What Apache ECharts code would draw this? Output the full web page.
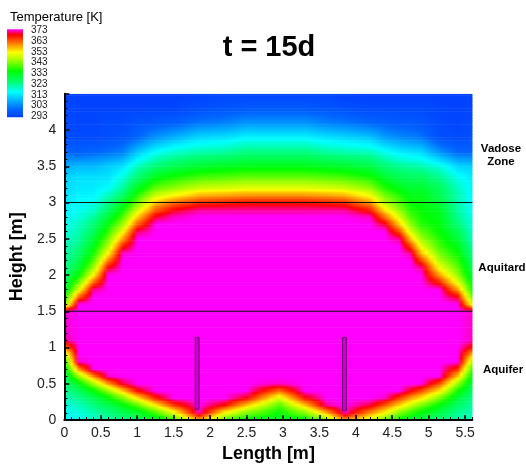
<!DOCTYPE html>
<html>
<head>
<meta charset="utf-8">
<title>t = 15d</title>
<script src="https://cdn.jsdelivr.net/npm/echarts/dist/echarts.min.js"></script>
<style>
  html, body { margin: 0; padding: 0; background: #fff; }
  #chart { width: 526px; height: 469px; }
</style>
</head>
<body>
<div id="chart"></div>
<script>
// Section geometry: mesh stations along the length (m) and height levels (m)
const lengthStations = [0, 0.2, 0.4, 0.6, 0.8, 1.0, 1.25, 1.5, 1.85, 2.2, 2.5, 2.95, 3.3, 3.6, 3.85, 4.2, 4.4, 4.6, 4.75, 4.9, 5.15, 5.4, 5.6];
const heightLevels = [0, 0.1, 0.2, 0.3, 0.4, 0.5, 0.6, 0.7, 0.8, 0.9, 1.0, 1.1, 1.2, 1.3, 1.4, 1.5,
  1.6, 1.7, 1.8, 1.9, 2.0, 2.1, 2.2, 2.3, 2.4, 2.5, 2.6, 2.7, 2.8, 2.9, 3.0, 3.1,
  3.2, 3.35, 3.5, 3.7, 3.9, 4.1, 4.3, 4.5];

// Temperature (K) at each length station, one row per height level (bottom to top)
const temperatureRows = [
  [316,317,319,321,324,327,331,338,358,340,334,332,334,343,359,349,341,335,332,329,325,321,320], // 0
  [317,318,321,324,328,331,339,350,372,352,343,335,343,357,372,359,352,343,338,334,329,323,321], // 0.1
  [318,320,324,328,333,340,352,364,373,367,355,340,355,371,373,369,362,354,348,342,334,326,322], // 0.2
  [320,323,328,334,342,353,366,373,373,373,368,349,367,373,373,373,372,364,358,353,342,330,324], // 0.3
  [322,327,334,344,355,367,373,373,373,373,373,361,373,373,373,373,373,373,368,363,353,336,326], // 0.4
  [324,333,345,358,369,373,373,373,373,373,373,372,373,373,373,373,373,373,373,373,363,344,329], // 0.5
  [327,344,359,372,373,373,373,373,373,373,373,373,373,373,373,373,373,373,373,373,373,355,333], // 0.6
  [331,359,373,373,373,373,373,373,373,373,373,373,373,373,373,373,373,373,373,373,373,365,338], // 0.7
  [336,372,373,373,373,373,373,373,373,373,373,373,373,373,373,373,373,373,373,373,373,373,346], // 0.8
  [345,373,373,373,373,373,373,373,373,373,373,373,373,373,373,373,373,373,373,373,373,373,356], // 0.9
  [360,373,373,373,373,373,373,373,373,373,373,373,373,373,373,373,373,373,373,373,373,373,367], // 1.0
  [371,373,373,373,373,373,373,373,373,373,373,373,373,373,373,373,373,373,373,373,373,373,372], // 1.1
  [372,373,373,373,373,373,373,373,373,373,373,373,373,373,373,373,373,373,373,373,373,373,372], // 1.2
  [372,373,373,373,373,373,373,373,373,373,373,373,373,373,373,373,373,373,373,373,373,373,372], // 1.3
  [372,373,373,373,373,373,373,373,373,373,373,373,373,373,373,373,373,373,373,373,373,373,372], // 1.4
  [372,373,373,373,373,373,373,373,373,373,373,373,373,373,373,373,373,373,373,373,373,373,372], // 1.5
  [342,373,373,373,373,373,373,373,373,373,373,373,373,373,373,373,373,373,373,373,373,373,350], // 1.6
  [335,362,373,373,373,373,373,373,373,373,373,373,373,373,373,373,373,373,373,373,373,368,341], // 1.7
  [330,350,371,373,373,373,373,373,373,373,373,373,373,373,373,373,373,373,373,373,373,358,336], // 1.8
  [327,342,362,373,373,373,373,373,373,373,373,373,373,373,373,373,373,373,373,373,366,350,333], // 1.9
  [325,335,352,373,373,373,373,373,373,373,373,373,373,373,373,373,373,373,373,373,358,344,330], // 2.0
  [323,331,345,368,373,373,373,373,373,373,373,373,373,373,373,373,373,373,373,371,351,341,328], // 2.1
  [322,328,340,360,373,373,373,373,373,373,373,373,373,373,373,373,373,373,373,364,346,338,326], // 2.2
  [321,326,336,352,372,373,373,373,373,373,373,373,373,373,373,373,373,373,371,356,342,335,324], // 2.3
  [320,324,333,346,366,373,373,373,373,373,373,373,373,373,373,373,373,373,364,350,339,333,322], // 2.4
  [319,322,330,342,358,373,373,373,373,373,373,373,373,373,373,373,373,371,356,345,337,330,320], // 2.5
  [318,321,327,338,351,370,373,373,373,373,373,373,373,373,373,373,373,363,349,341,335,328,319], // 2.6
  [317,320,325,334,345,362,373,373,373,373,373,373,373,373,373,373,369,355,344,337,334,325,318], // 2.7
  [316,318,322,330,340,355,369,372,373,373,373,373,373,373,373,372,361,349,340,336,333,323,317], // 2.8
  [315,317,319,326,335,348,362,368,371,371,371,371,371,371,371,366,353,344,337,335,332,322,316], // 2.9
  [314,316,317,323,331,342,355,361,365,366,367,367,367,366,365,358,346,340,335,334,330,321,316], // 3.0
  [313,315,315,320,326,337,348,352,357,358,359,359,359,358,357,351,342,337,333,333,328,321,315], // 3.1
  [312,314,314,316,322,332,341,344,348,349,350,350,350,349,348,344,337,333,331,331,327,320,315], // 3.2
  [311,313,313,313,318,325,333,336,339,340,341,341,341,340,339,336,331,328,327,327,323,317,314], // 3.35
  [308,309,309,311,313,320,325,328,331,332,333,333,333,332,331,329,325,323,322,321,318,312,311], // 3.5
  [300,299,300,301,303,310,316,319,321,322,324,324,324,322,321,320,317,314,313,312,305,300,300], // 3.7
  [296,295,295,296,297,300,305,308,312,313,315,315,315,313,312,310,306,304,303,302,296,295,296], // 3.9
  [295,294,294,295,295,297,298,299,302,303,305,305,305,303,302,300,299,298,298,297,295,294,295], // 4.1
  [294,294,294,294,294,294,294,294,296,297,298,298,298,297,296,295,295,295,295,295,294,294,294], // 4.3
  [294,293,293,293,293,293,293,293,293,294,294,294,294,294,293,293,293,293,293,293,293,293,293]  // 4.5
];

// Layer interfaces (m) and zone names, top to bottom
const layerBoundaries = [3.0, 1.5];
const zoneNames = ['Vadose\nZone', 'Aquitard', 'Aquifer'];

// Well screens: centre position, bottom and top heights (m)
const wellCenters = [1.822, 3.844];
const wellBottoms = [0.148, 0.128];
const wellTops = [1.14, 1.14];
const wellWidth = 0.052;

// Temperature scale (K)
const tempScaleMin = 293;
const tempScaleMax = 373;
const tempScaleStep = 10;

// Rainbow palette nodes
const paletteTemps = [293, 300, 308, 316, 324, 335, 345, 352, 360, 368, 373];
const paletteRGB = [
  [0, 64, 255], [0, 100, 255], [0, 176, 255], [0, 255, 255], [0, 255, 128],
  [0, 255, 0], [160, 255, 0], [255, 255, 0], [255, 128, 0], [255, 0, 0], [255, 0, 255]
];

const FONT = '"Liberation Sans", Arial, Helvetica, sans-serif';

function tempColor(t) {
  const n = paletteTemps.length;
  let c;
  if (t <= paletteTemps[0]) c = paletteRGB[0];
  else if (t >= paletteTemps[n - 1]) c = paletteRGB[n - 1];
  else {
    for (let i = 0; i < n - 1; i++) {
      if (t <= paletteTemps[i + 1]) {
        const f = (t - paletteTemps[i]) / (paletteTemps[i + 1] - paletteTemps[i]);
        const a = paletteRGB[i], b = paletteRGB[i + 1];
        c = [a[0] + (b[0] - a[0]) * f, a[1] + (b[1] - a[1]) * f, a[2] + (b[2] - a[2]) * f];
        break;
      }
    }
  }
  return 'rgb(' + Math.round(c[0]) + ',' + Math.round(c[1]) + ',' + Math.round(c[2]) + ')';
}

// Shaded flood of one band of mesh cells between two height levels
function renderField(params, api) {
  const j = api.value(2);
  const last = lengthStations.length - 1;
  const x0 = lengthStations[0], xN = lengthStations[last];
  const tl = api.coord([x0, heightLevels[j + 1]]);
  const br = api.coord([xN, heightLevels[j]]);
  const h = br[1] - tl[1];
  const w = br[0] - tl[0];
  const n = Math.max(1, Math.ceil(h / 1.5));
  const lower = temperatureRows[j], upper = temperatureRows[j + 1];
  const children = [];
  for (let k = 0; k < n; k++) {
    const f = 1 - (k + 0.5) / n;
    const stops = [];
    for (let i = 0; i < last; i++) {
      const a = lower[i] + (upper[i] - lower[i]) * f;
      const b = lower[i + 1] + (upper[i + 1] - lower[i + 1]) * f;
      for (let s = 0; s < 4; s++) {
        const u = s / 4;
        const xm = lengthStations[i] + (lengthStations[i + 1] - lengthStations[i]) * u;
        stops.push({ offset: (xm - x0) / (xN - x0), color: tempColor(a + (b - a) * u) });
      }
    }
    stops.push({ offset: 1, color: tempColor(lower[last] + (upper[last] - lower[last]) * f) });
    children.push({
      type: 'rect',
      shape: { x: tl[0], y: tl[1] + k * h / n, width: w, height: h / n + 0.6 },
      style: { fill: new echarts.graphic.LinearGradient(0, 0, 1, 0, stops) }
    });
  }
  return { type: 'group', children: children };
}

function renderWell(params, api) {
  const c = api.value(0), bot = api.value(1), top = api.value(2);
  const p0 = api.coord([c - wellWidth / 2, top]);
  const p1 = api.coord([c + wellWidth / 2, bot]);
  return {
    type: 'rect',
    shape: { x: p0[0], y: p0[1], width: p1[0] - p0[0], height: p1[1] - p0[1] },
    style: { fill: '#d000d0', stroke: '#6a006a', lineWidth: 1 }
  };
}

function renderScaleBar(params, api) {
  const top = api.coord([0, tempScaleMax]);
  const bottom = api.coord([1, tempScaleMin]);
  const stops = paletteTemps.map(function (t) {
    return { offset: (tempScaleMax - t) / (tempScaleMax - tempScaleMin), color: tempColor(t) };
  }).reverse();
  return {
    type: 'rect',
    shape: { x: top[0], y: top[1] - 1, width: bottom[0] - top[0], height: bottom[1] - top[1] + 2 },
    style: { fill: new echarts.graphic.LinearGradient(0, 0, 0, 1, stops) }
  };
}

const xStart = lengthStations[0];
const xEnd = lengthStations[lengthStations.length - 1];
const yEnd = heightLevels[heightLevels.length - 1];

const chart = echarts.init(document.getElementById('chart'), null, { renderer: 'canvas' });

const axisCommon = {
  axisLine: { show: true, onZero: false, lineStyle: { color: '#000', width: 2 } },
  splitLine: { show: false }
};

const option = {
  animation: false,
  backgroundColor: '#ffffff',
  textStyle: { fontFamily: FONT },
  grid: [
    { left: 63, top: 93.75, width: 409.4, height: 326.25 },
    { left: 7, top: 30.3, width: 16, height: 86 }
  ],
  xAxis: [
    Object.assign({}, axisCommon, {
      gridIndex: 0, type: 'value', min: xStart, max: xEnd, interval: 0.5, position: 'bottom', z: 10,
      name: 'Length [m]', nameLocation: 'middle', nameGap: 22,
      nameTextStyle: { fontSize: 18, fontWeight: 'bold', color: '#000', fontFamily: FONT },
      axisTick: { show: true, inside: true, length: 5, lineStyle: { color: '#000', width: 1.5 } },
      axisLabel: { fontSize: 14, color: '#222', margin: 6, showMaxLabel: false, fontFamily: FONT }
    }),
    {
      gridIndex: 0, type: 'value', min: xStart, max: xEnd, interval: 0.1, position: 'bottom', z: 10,
      axisLine: { show: false },
      axisTick: { show: true, inside: true, length: 3, lineStyle: { color: '#000', width: 1 } },
      axisLabel: { show: false }, splitLine: { show: false }
    },
    { gridIndex: 1, type: 'value', min: 0, max: 1, show: false }
  ],
  yAxis: [
    Object.assign({}, axisCommon, {
      gridIndex: 0, type: 'value', min: 0, max: yEnd, interval: 0.5, position: 'left', z: 10,
      name: 'Height [m]', nameLocation: 'middle', nameGap: 32, nameRotate: 90,
      nameTextStyle: { fontSize: 18, fontWeight: 'bold', color: '#000', fontFamily: FONT },
      axisTick: { show: true, inside: true, length: 5, lineStyle: { color: '#000', width: 1.5 } },
      minorTick: { show: true, splitNumber: 5, length: 3, lineStyle: { color: '#000', width: 1 } },
      axisLabel: { fontSize: 14, color: '#222', margin: 8, showMaxLabel: false, fontFamily: FONT }
    }),
    {
      gridIndex: 1, type: 'value', min: tempScaleMin, max: tempScaleMax, interval: tempScaleStep,
      position: 'right',
      axisLine: { show: false }, axisTick: { show: false }, splitLine: { show: false },
      axisLabel: { fontSize: 10, color: '#222', margin: 8, fontFamily: FONT }
    }
  ],
  series: [
    {
      type: 'custom', name: 'Temperature', xAxisIndex: 0, yAxisIndex: 0, z: 1,
      clip: true, silent: true, renderItem: renderField,
      encode: { x: 0, y: 1 },
      data: heightLevels.slice(0, -1).map(function (y, j) { return [xStart, y, j]; })
    }
  ].concat(layerBoundaries.map(function (b) {
    return {
      type: 'line', xAxisIndex: 0, yAxisIndex: 0, z: 3, silent: true,
      symbol: 'none', lineStyle: { color: '#111', width: 1.2 },
      data: [[xStart, b], [xEnd, b]]
    };
  })).concat([
    {
      type: 'custom', name: 'Wells', xAxisIndex: 0, yAxisIndex: 0, z: 4, silent: true,
      renderItem: renderWell, encode: { x: 0, y: 1 },
      data: wellCenters.map(function (c, i) { return [c, wellBottoms[i], wellTops[i]]; })
    },
    {
      type: 'custom', name: 'Scale', xAxisIndex: 2, yAxisIndex: 1, silent: true,
      renderItem: renderScaleBar, encode: { x: 0, y: 1 },
      data: [[0, tempScaleMin]]
    }
  ]),
  graphic: [
    { type: 'text', x: 269, y: 47.5, style: { text: 't = 15d', fontSize: 29, fontWeight: 'bold', fontFamily: FONT, fill: '#000', align: 'center', verticalAlign: 'middle' } },
    { type: 'text', x: 10, y: 17.5, style: { text: 'Temperature [K]', fontSize: 13, fontFamily: FONT, fill: '#000', align: 'left', verticalAlign: 'middle' } },
    { type: 'text', x: 501, y: 155.3, style: { text: zoneNames[0], fontSize: 11.5, fontWeight: 'bold', lineHeight: 12.5, fontFamily: FONT, fill: '#000', align: 'center', verticalAlign: 'middle' } },
    { type: 'text', x: 502, y: 267.5, style: { text: zoneNames[1], fontSize: 11.5, fontWeight: 'bold', fontFamily: FONT, fill: '#000', align: 'center', verticalAlign: 'middle' } },
    { type: 'text', x: 503, y: 369.5, style: { text: zoneNames[2], fontSize: 11.5, fontWeight: 'bold', fontFamily: FONT, fill: '#000', align: 'center', verticalAlign: 'middle' } }
  ]
};

chart.setOption(option);
</script>
</body>
</html>
